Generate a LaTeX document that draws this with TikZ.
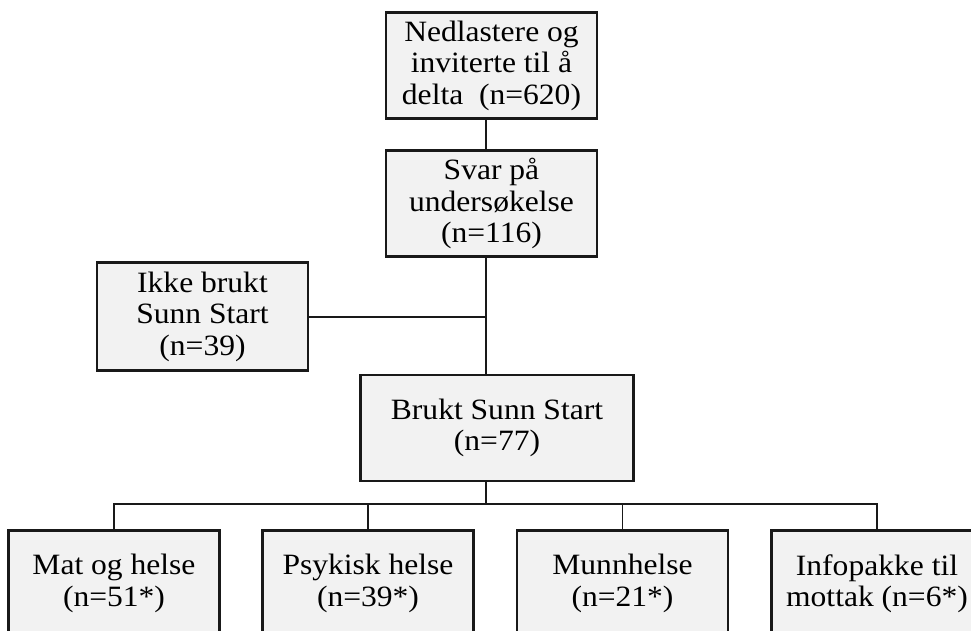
\documentclass[tikz,border=0pt]{standalone}
\usepackage{fontspec}
\setmainfont{Liberation Serif}[FakeStretch=1.07]
\begin{document}
\begin{tikzpicture}[x=1pt,y=-1pt,
  boxst/.style={draw=black!90,line width=2.4pt,fill=black!5,inner sep=0pt,align=center,
    font=\fontsize{29.5}{31.5}\selectfont,minimum width=211pt,minimum height=106pt},
  conn/.style={line width=1.4pt,draw=black!90}]
\useasboundingbox (0,0) rectangle (971,631);
\clip (0,0) rectangle (971,631);
\node[boxst] (a) at (491.5,65.5) {Nedlastere og\\inviterte til å\\delta\ \ (n=620)};
\node[boxst] (b) at (491.5,203.5) {Svar på\\undersøkelse\\(n=116)};
\node[boxst,minimum height=108pt] (c) at (202.5,316.5) {Ikke brukt\\Sunn Start\\(n=39)};
\node[boxst,minimum width=273pt] (d) at (497,428) {Brukt Sunn Start\\(n=77)};
\node[boxst] (e1) at (114,583.5) {Mat og helse\\(n=51*)};
\node[boxst] (e2) at (368,583.5) {Psykisk helse\\(n=39*)};
\node[boxst] (e3) at (622.5,583.5) {Munnhelse\\(n=21*)};
\node[boxst] (e4) at (877,583.5) {Infopakke til\\mottak (n=6*)};
\coordinate (s1) at (486,119);
\coordinate (s2) at (486,150);
\coordinate (s3) at (486,257);
\coordinate (s4) at (486,375);
\coordinate (s5) at (486,481);
\coordinate (bus) at (486,504);
\coordinate (mid) at (486,317);
\draw[conn] (a.south -| s1) -- (b.north -| s2);
\draw[conn] (b.south -| s3) -- (d.north -| s4);
\draw[conn] (c.east |- mid) -- (mid);
\draw[conn] (d.south -| s5) -- (bus);
\draw[conn] (e1.north) -- (e1.north |- bus) -- (e4.north |- bus) -- (e4.north);
\draw[conn] (e2.north |- bus) -- (e2.north);
\draw[conn] (e3.north |- bus) -- (e3.north);
\end{tikzpicture}
\end{document}
